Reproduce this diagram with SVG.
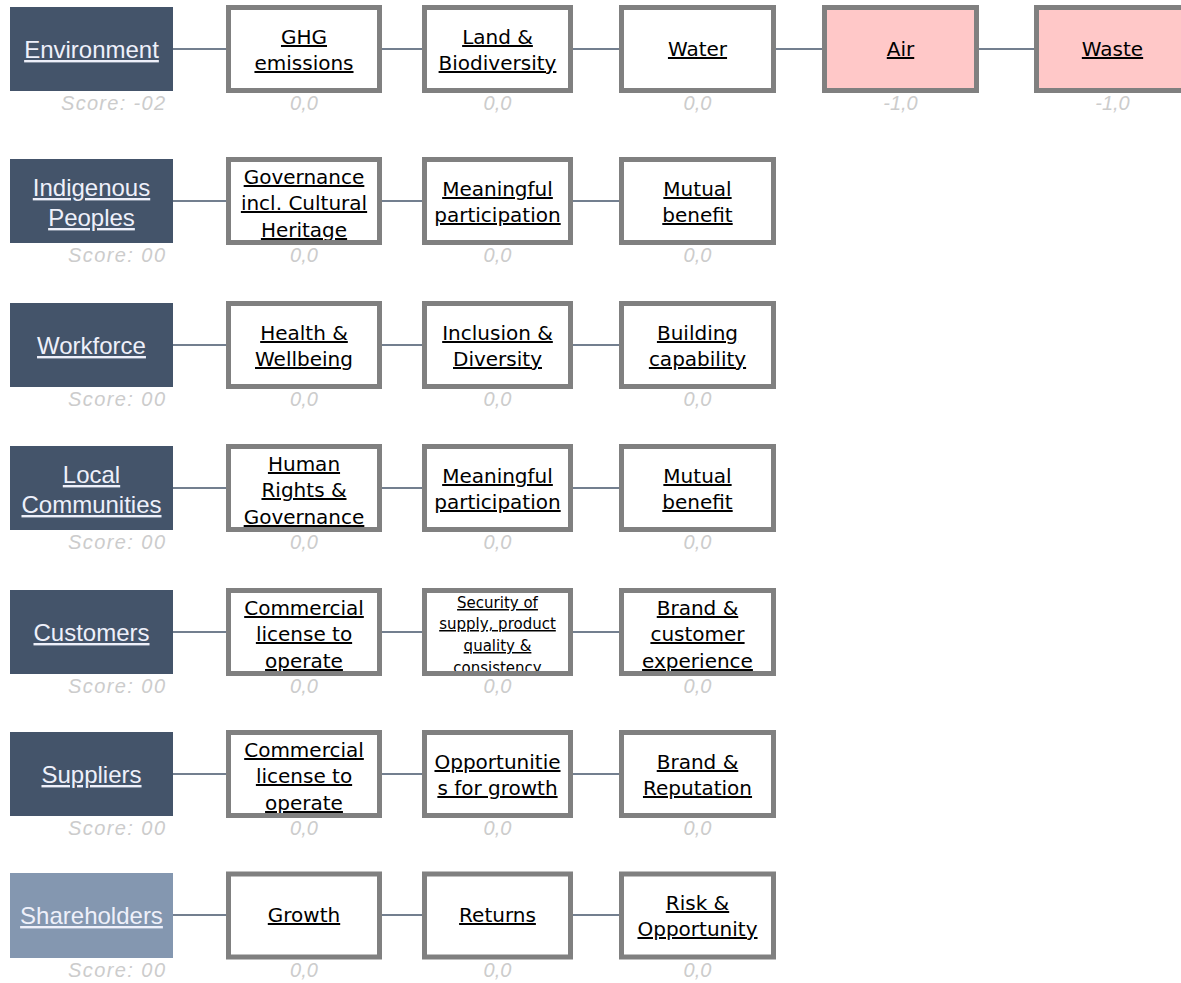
<svg xmlns="http://www.w3.org/2000/svg" width="1181" height="983" viewBox="0 0 1181 983">
<style>
.bg{fill:#ffffff}
.sh{fill:#44546a}
.shl{fill:#8497b0}
.sht{font-family:"Liberation Sans",Arial,sans-serif;font-size:24px;fill:#eef0fa;text-anchor:middle;text-decoration:underline}
.sub{fill:#ffffff;stroke:#808080;stroke-width:5}
.pink{fill:#ffc8c8;stroke:#808080;stroke-width:5}
.st{font-family:"DejaVu Sans",Verdana,sans-serif;font-size:20px;fill:#000000;text-anchor:middle;text-decoration:underline}
.sts{font-family:"DejaVu Sans",Verdana,sans-serif;font-size:15px;fill:#000000;text-anchor:middle;text-decoration:underline}
.sc{font-family:"Liberation Sans",Arial,sans-serif;font-style:italic;font-size:20px;fill:#cccccc}
.scm{text-anchor:middle}
.sce{text-anchor:end}
.cn{stroke:#44546a;stroke-width:1.5;fill:none}
</style>
<defs>
<clipPath id="c21"><rect x="231" y="162" width="146" height="78"/></clipPath>
<clipPath id="c41"><rect x="231" y="449" width="146" height="78"/></clipPath>
<clipPath id="c51"><rect x="231" y="593" width="146" height="78"/></clipPath>
<clipPath id="c52"><rect x="427" y="593" width="141" height="78"/></clipPath>
<clipPath id="c53"><rect x="624" y="593" width="147" height="78"/></clipPath>
<clipPath id="c61"><rect x="231" y="735" width="146" height="78"/></clipPath>
</defs>
<rect class="bg" x="0" y="0" width="1181" height="983"/>

<g id="connectors">
<line class="cn" x1="173" y1="49" x2="226" y2="49"/>
<line class="cn" x1="382" y1="49" x2="422" y2="49"/>
<line class="cn" x1="573" y1="49" x2="619" y2="49"/>
<line class="cn" x1="776" y1="49" x2="822" y2="49"/>
<line class="cn" x1="979" y1="49" x2="1034" y2="49"/>
<line class="cn" x1="173" y1="201" x2="226" y2="201"/>
<line class="cn" x1="382" y1="201" x2="422" y2="201"/>
<line class="cn" x1="573" y1="201" x2="619" y2="201"/>
<line class="cn" x1="173" y1="345" x2="226" y2="345"/>
<line class="cn" x1="382" y1="345" x2="422" y2="345"/>
<line class="cn" x1="573" y1="345" x2="619" y2="345"/>
<line class="cn" x1="173" y1="488" x2="226" y2="488"/>
<line class="cn" x1="382" y1="488" x2="422" y2="488"/>
<line class="cn" x1="573" y1="488" x2="619" y2="488"/>
<line class="cn" x1="173" y1="632" x2="226" y2="632"/>
<line class="cn" x1="382" y1="632" x2="422" y2="632"/>
<line class="cn" x1="573" y1="632" x2="619" y2="632"/>
<line class="cn" x1="173" y1="774" x2="226" y2="774"/>
<line class="cn" x1="382" y1="774" x2="422" y2="774"/>
<line class="cn" x1="573" y1="774" x2="619" y2="774"/>
<line class="cn" x1="173" y1="915" x2="226" y2="915"/>
<line class="cn" x1="382" y1="915" x2="422" y2="915"/>
<line class="cn" x1="573" y1="915" x2="619" y2="915"/>
</g>

<!-- Row 1 -->
<g id="environment">
<rect class="sh" x="10" y="7" width="163" height="84"/>
<text class="sht" x="91.5" y="58">Environment</text>
<text class="sc sce" x="165" y="110" textLength="104" lengthAdjust="spacing">Score: -02</text>
</g>
<g id="ghg">
<rect class="sub" x="228.5" y="7.5" width="151" height="83"/>
<text class="st" x="304" y="44">GHG </text>
<text class="st" x="304" y="70">emissions</text>
<text class="sc scm" x="304" y="110">0,0</text>
</g>
<g id="land">
<rect class="sub" x="424.5" y="7.5" width="146" height="83"/>
<text class="st" x="497.5" y="44">Land &amp; </text>
<text class="st" x="497.5" y="70">Biodiversity</text>
<text class="sc scm" x="497.5" y="110">0,0</text>
</g>
<g id="water">
<rect class="sub" x="621.5" y="7.5" width="152" height="83"/>
<text class="st" x="697.5" y="56">Water</text>
<text class="sc scm" x="697.5" y="110">0,0</text>
</g>
<g id="air">
<rect class="pink" x="824.5" y="7.5" width="152" height="83"/>
<text class="st" x="900.5" y="56">Air</text>
<text class="sc scm" x="900.5" y="110">-1,0</text>
</g>
<g id="waste">
<rect class="pink" x="1036.5" y="7.5" width="152" height="83"/>
<text class="st" x="1112.5" y="56">Waste</text>
<text class="sc scm" x="1112.5" y="110">-1,0</text>
</g>

<!-- Row 2 -->
<g id="indigenous">
<rect class="sh" x="10" y="159" width="163" height="84"/>
<text class="sht" x="91.5" y="196">Indigenous </text>
<text class="sht" x="91.5" y="226">Peoples</text>
<text class="sc sce" x="165" y="262" textLength="97" lengthAdjust="spacing">Score: 00</text>
</g>
<g id="ip-governance">
<rect class="sub" x="228.5" y="159.5" width="151" height="83"/>
<g clip-path="url(#c21)">
<text class="st" x="304" y="184">Governance </text>
<text class="st" x="304" y="210">incl. Cultural </text>
<text class="st" x="304" y="237">Heritage</text>
</g>
<text class="sc scm" x="304" y="262">0,0</text>
</g>
<g id="ip-participation">
<rect class="sub" x="424.5" y="159.5" width="146" height="83"/>
<text class="st" x="497.5" y="196">Meaningful </text>
<text class="st" x="497.5" y="222">participation</text>
<text class="sc scm" x="497.5" y="262">0,0</text>
</g>
<g id="ip-benefit">
<rect class="sub" x="621.5" y="159.5" width="152" height="83"/>
<text class="st" x="697.5" y="196">Mutual </text>
<text class="st" x="697.5" y="222">benefit</text>
<text class="sc scm" x="697.5" y="262">0,0</text>
</g>

<!-- Row 3 -->
<g id="workforce">
<rect class="sh" x="10" y="303" width="163" height="84"/>
<text class="sht" x="91.5" y="354">Workforce</text>
<text class="sc sce" x="165" y="406" textLength="97" lengthAdjust="spacing">Score: 00</text>
</g>
<g id="wf-health">
<rect class="sub" x="228.5" y="303.5" width="151" height="83"/>
<text class="st" x="304" y="340">Health &amp; </text>
<text class="st" x="304" y="366">Wellbeing</text>
<text class="sc scm" x="304" y="406">0,0</text>
</g>
<g id="wf-inclusion">
<rect class="sub" x="424.5" y="303.5" width="146" height="83"/>
<text class="st" x="497.5" y="340">Inclusion &amp; </text>
<text class="st" x="497.5" y="366">Diversity</text>
<text class="sc scm" x="497.5" y="406">0,0</text>
</g>
<g id="wf-capability">
<rect class="sub" x="621.5" y="303.5" width="152" height="83"/>
<text class="st" x="697.5" y="340">Building </text>
<text class="st" x="697.5" y="366">capability</text>
<text class="sc scm" x="697.5" y="406">0,0</text>
</g>

<!-- Row 4 -->
<g id="local-communities">
<rect class="sh" x="10" y="446" width="163" height="84"/>
<text class="sht" x="91.5" y="483">Local </text>
<text class="sht" x="91.5" y="513">Communities</text>
<text class="sc sce" x="165" y="549" textLength="97" lengthAdjust="spacing">Score: 00</text>
</g>
<g id="lc-rights">
<rect class="sub" x="228.5" y="446.5" width="151" height="83"/>
<g clip-path="url(#c41)">
<text class="st" x="304" y="471">Human </text>
<text class="st" x="304" y="497">Rights &amp; </text>
<text class="st" x="304" y="524">Governance</text>
</g>
<text class="sc scm" x="304" y="549">0,0</text>
</g>
<g id="lc-participation">
<rect class="sub" x="424.5" y="446.5" width="146" height="83"/>
<text class="st" x="497.5" y="483">Meaningful </text>
<text class="st" x="497.5" y="509">participation</text>
<text class="sc scm" x="497.5" y="549">0,0</text>
</g>
<g id="lc-benefit">
<rect class="sub" x="621.5" y="446.5" width="152" height="83"/>
<text class="st" x="697.5" y="483">Mutual </text>
<text class="st" x="697.5" y="509">benefit</text>
<text class="sc scm" x="697.5" y="549">0,0</text>
</g>

<!-- Row 5 -->
<g id="customers">
<rect class="sh" x="10" y="590" width="163" height="84"/>
<text class="sht" x="91.5" y="641">Customers</text>
<text class="sc sce" x="165" y="693" textLength="97" lengthAdjust="spacing">Score: 00</text>
</g>
<g id="cu-license">
<rect class="sub" x="228.5" y="590.5" width="151" height="83"/>
<g clip-path="url(#c51)">
<text class="st" x="304" y="615">Commercial </text>
<text class="st" x="304" y="641">license to </text>
<text class="st" x="304" y="668">operate</text>
</g>
<text class="sc scm" x="304" y="693">0,0</text>
</g>
<g id="cu-security">
<rect class="sub" x="424.5" y="590.5" width="146" height="83"/>
<g clip-path="url(#c52)">
<text class="sts" x="497.5" y="608">Security of </text>
<text class="sts" x="497.5" y="629">supply, product </text>
<text class="sts" x="497.5" y="651">quality &amp; </text>
<text class="sts" x="497.5" y="673">consistency</text>
</g>
<text class="sc scm" x="497.5" y="693">0,0</text>
</g>
<g id="cu-brand">
<rect class="sub" x="621.5" y="590.5" width="152" height="83"/>
<g clip-path="url(#c53)">
<text class="st" x="697.5" y="615">Brand &amp; </text>
<text class="st" x="697.5" y="641">customer </text>
<text class="st" x="697.5" y="668">experience</text>
</g>
<text class="sc scm" x="697.5" y="693">0,0</text>
</g>

<!-- Row 6 -->
<g id="suppliers">
<rect class="sh" x="10" y="732" width="163" height="84"/>
<text class="sht" x="91.5" y="783">Suppliers</text>
<text class="sc sce" x="165" y="835" textLength="97" lengthAdjust="spacing">Score: 00</text>
</g>
<g id="su-license">
<rect class="sub" x="228.5" y="732.5" width="151" height="83"/>
<g clip-path="url(#c61)">
<text class="st" x="304" y="757">Commercial </text>
<text class="st" x="304" y="783">license to </text>
<text class="st" x="304" y="810">operate</text>
</g>
<text class="sc scm" x="304" y="835">0,0</text>
</g>
<g id="su-growth">
<rect class="sub" x="424.5" y="732.5" width="146" height="83"/>
<text class="st" x="497.5" y="769">Opportunitie</text>
<text class="st" x="497.5" y="795">s for growth</text>
<text class="sc scm" x="497.5" y="835">0,0</text>
</g>
<g id="su-brand">
<rect class="sub" x="621.5" y="732.5" width="152" height="83"/>
<text class="st" x="697.5" y="769">Brand &amp; </text>
<text class="st" x="697.5" y="795">Reputation</text>
<text class="sc scm" x="697.5" y="835">0,0</text>
</g>

<!-- Row 7 -->
<g id="shareholders">
<rect class="shl" x="10" y="873" width="163" height="85"/>
<text class="sht" x="91.5" y="924">Shareholders</text>
<text class="sc sce" x="165" y="977" textLength="97" lengthAdjust="spacing">Score: 00</text>
</g>
<g id="sh-growth">
<rect class="sub" x="228.5" y="874" width="151" height="83"/>
<text class="st" x="304" y="922">Growth</text>
<text class="sc scm" x="304" y="977">0,0</text>
</g>
<g id="sh-returns">
<rect class="sub" x="424.5" y="874" width="146" height="83"/>
<text class="st" x="497.5" y="922">Returns</text>
<text class="sc scm" x="497.5" y="977">0,0</text>
</g>
<g id="sh-risk">
<rect class="sub" x="621.5" y="874" width="152" height="83"/>
<text class="st" x="697.5" y="910">Risk &amp; </text>
<text class="st" x="697.5" y="936">Opportunity</text>
<text class="sc scm" x="697.5" y="977">0,0</text>
</g>
</svg>
